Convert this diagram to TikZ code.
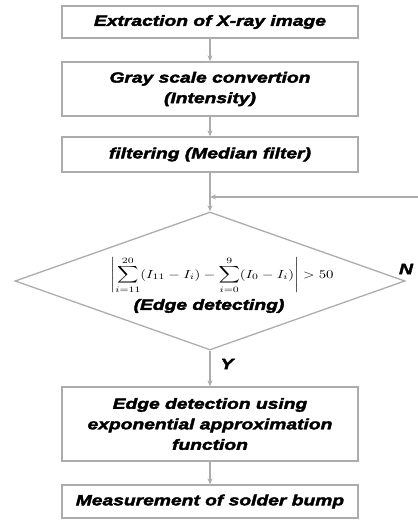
\documentclass[tikz,border=0pt]{standalone}
\usepackage{fontspec}
\usepackage{graphicx}
\usetikzlibrary{shapes.geometric,arrows.meta}
\newfontfamily\labfont[FakeStretch=1.3,FakeBold=2.5]{Liberation Sans}
\begin{document}
\begin{tikzpicture}[x=1pt,y=-1pt,
  lbl/.style={font=\labfont\bfseries\itshape\fontsize{14.8}{20.5}\selectfont, align=center},
  boxnode/.style={lbl, draw=gray!65, line width=1.3pt, minimum width=296pt, inner sep=0pt},
  arr/.style={draw=gray!65, line width=1.1pt, -{Stealth[length=6pt,width=5pt]}}]
\useasboundingbox (0,0) rectangle (418,520);
\node[boxnode, minimum height=32pt] (b1) at (210,22) {Extraction of X-ray image};
\node[boxnode, minimum height=54pt] (b2) at (210,89) {Gray scale convertion\\(Intensity)};
\node[boxnode, minimum height=35pt] (b3) at (210,154.5) {filtering (Median filter)};
\node[diamond, draw=gray!65, line width=1.3pt, minimum width=390pt, minimum height=138pt, inner sep=0pt] (d) at (210,281) {};
\node[inner sep=0pt] (f) at (222,275) {\scalebox{1.48}[1.18]{$\displaystyle\left|\sum_{i=11}^{20}(I_{11}-I_i)-\sum_{i=0}^{9}(I_0-I_i)\right|>50$}};
\node[lbl] (e) at (209,306) {(Edge detecting)};
\node[boxnode, minimum height=74pt] (b4) at (210,424) {Edge detection using\\exponential approximation\\function};
\node[boxnode, minimum height=33pt] (b5) at (210,501.5) {Measurement of solder bump};
\node[lbl, inner sep=0pt] (n) at (406,269) {N};
\node[lbl] (y) at (227,364) {Y};
\coordinate (fb) at (420,197);
\draw[arr] (b1) -- (b2);
\draw[arr] (b2) -- (b3);
\draw[arr] (b3) -- (d.north);
\draw[arr] (fb) -- (fb -| d.north);
\draw[arr] (d.south) -- (b4);
\draw[arr] (b4) -- (b5);
\end{tikzpicture}
\end{document}
